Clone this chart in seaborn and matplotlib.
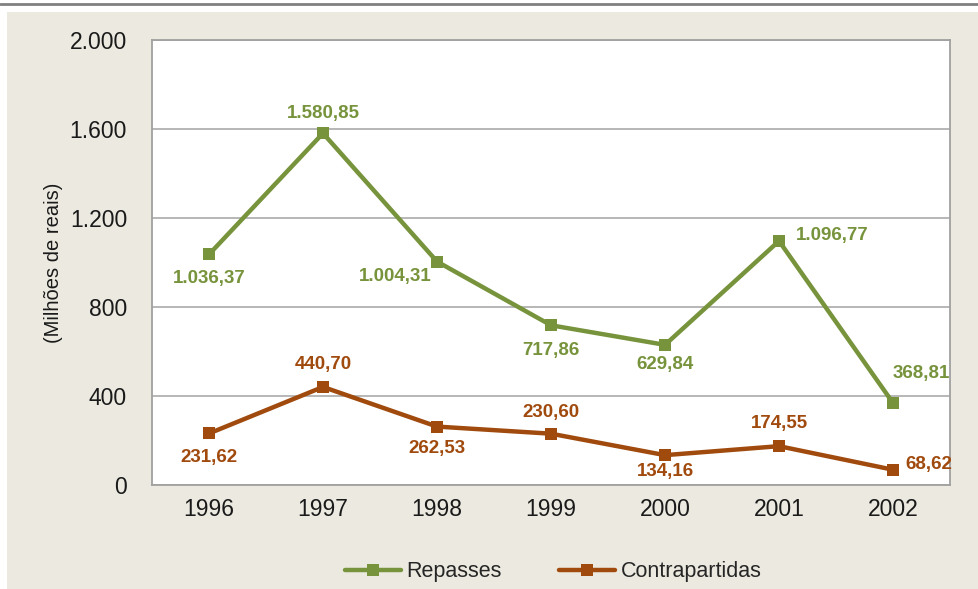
import numpy as np
import pandas as pd
import matplotlib
matplotlib.use("Agg")
import matplotlib.pyplot as plt
import seaborn as sns
from matplotlib.patches import Rectangle
from matplotlib.lines import Line2D

years = ["1996", "1997", "1998", "1999", "2000", "2001", "2002"]
repasses = [1036.37, 1580.85, 1004.31, 717.86, 629.84, 1096.77, 368.81]
contrapartidas = [231.62, 440.70, 262.53, 230.60, 134.16, 174.55, 68.62]
series_names = ["Repasses", "Contrapartidas"]
yticks = [0, 400, 800, 1200, 1600, 2000]

green = "#77933C"
brown = "#A04A0E"
beige = "#ECEAE0"


def br(v, dec=2):
    s = f"{v:,.{dec}f}"
    return s.replace(",", "X").replace(".", ",").replace("X", ".")


sns.set_theme(style="white")
plt.rcParams["font.family"] = ["Liberation Sans", "DejaVu Sans"]

df = pd.DataFrame({
    "ano": list(range(len(years))) * 2,
    "valor": repasses + contrapartidas,
    "serie": [series_names[0]] * len(years) + [series_names[1]] * len(years),
})

fig = plt.figure(figsize=(9.79, 5.89), dpi=100)
fig.patch.set_facecolor("white")
fig.patches.append(Rectangle((7 / 979, 0), 1, (589 - 12) / 589, transform=fig.transFigure,
                             facecolor=beige, edgecolor="none", zorder=-5))
fig.lines.append(Line2D([0, 1], [(589 - 4) / 589] * 2, transform=fig.transFigure,
                        color="#808080", lw=2, zorder=-5))

ax = fig.add_axes([152 / 979, (589 - 485) / 589, (950 - 152) / 979, (485 - 40) / 589])
ax.set_facecolor("white")
sns.lineplot(data=df, x="ano", y="valor", hue="serie", palette=[green, brown],
             marker="s", markersize=9, markeredgewidth=0, linewidth=3.2, ax=ax, legend=False)

ax.set_xlim(-0.5, 6.5)
ax.set_ylim(0, 2000)
ax.set_yticks(yticks)
ax.set_yticklabels([br(t, 0) for t in yticks], fontsize=16.5, color="#1a1a1a")
ax.set_xticks(range(len(years)))
ax.set_xticklabels(years, fontsize=16.5, color="#1a1a1a")
ax.set_xticks(np.arange(-0.5, 7, 1), minor=True)
ax.tick_params(axis="x", which="major", length=0, pad=9)
ax.tick_params(axis="x", which="minor", length=6, color="#999999", direction="out")
ax.tick_params(axis="y", length=0, pad=18)
ax.grid(axis="y", color="#aaaaaa", lw=1.2)
for sp in ax.spines.values():
    sp.set_color("#a0a0a0")
    sp.set_linewidth(1.3)
ax.set_xlabel("")
ax.set_ylabel("(Milhões de reais)", fontsize=14.5, color="#1a1a1a", labelpad=5)

lab_font = dict(fontsize=13.5, fontweight="bold")
# offsets in points (dx, dy, ha)
rep_pos = [(0, -17, "center"), (0, 14, "center"), (-30, -11, "center"), (0, -18, "center"),
           (0, -14, "center"), (12, 4, "left"), (0, 21, "left")]
con_pos = [(0, -17, "center"), (0, 16, "center"), (0, -16, "center"), (0, 15, "center"),
           (0, -12, "center"), (0, 16, "center"), (9, 4, "left")]
for vals, pos, col in [(repasses, rep_pos, green), (contrapartidas, con_pos, brown)]:
    for i, v in enumerate(vals):
        dx, dy, ha = pos[i]
        ax.annotate(br(v), (i, v), xytext=(dx, dy), textcoords="offset points",
                    ha=ha, va="center", color=col, **lab_font)

handles = [Line2D([], [], color=green, lw=3.2, marker="s", markersize=8, markeredgewidth=0),
           Line2D([], [], color=brown, lw=3.2, marker="s", markersize=8, markeredgewidth=0)]
fig.legend(handles, series_names, loc="center", bbox_to_anchor=(0.565, (589 - 572) / 589),
           ncol=2, frameon=False, fontsize=15.5, handlelength=2.6, columnspacing=2.7,
           handletextpad=0.25)

fig.savefig("out.png", dpi=100, facecolor=fig.get_facecolor())
